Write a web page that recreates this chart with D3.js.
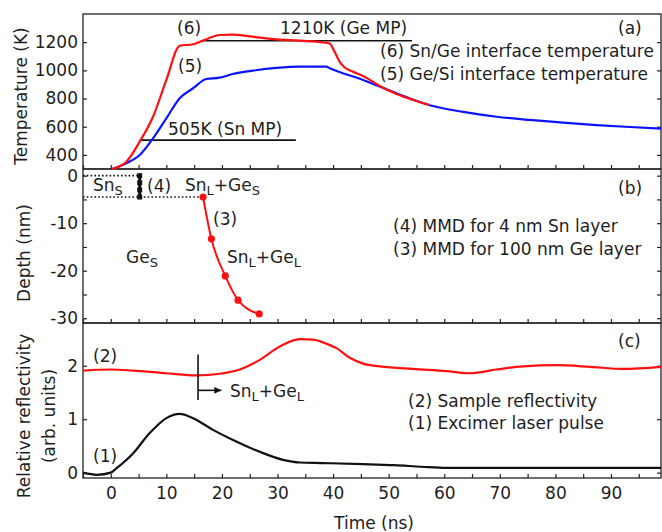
<!DOCTYPE html>
<head>
	<meta charset="utf-8" />
	<style>
		body {
			margin: 0;
			background: #fff;
		}
		text {
			font-family: 'DejaVu Sans', sans-serif;
			font-size: 17px;
			fill: #1e1e1e;
		}
		.axis path,
		.axis line {
			stroke: #222;
			stroke-width: 1.2;
		}
		.frame {
			fill: none;
			stroke: #222;
			stroke-width: 1.3;
		}
	</style>
</head>

<body>
	<svg id="chart" width="662" height="532"></svg>

	<script src="https://cdnjs.cloudflare.com/ajax/libs/d3/7.8.5/d3.min.js"></script>
	<script>
		// ---- data ----
		// (a) interface temperatures
		var snGeTime = [0.2, 2.8, 5.2, 7.6, 10, 12.4, 14.8, 16.6, 19.6, 21.9, 25.5, 29.8, 34, 38.8, 39.4, 40.3, 41.2, 42.1, 43.6, 45.4, 48.4, 51.4, 54.4, 57.4, 63.4, 69.4, 75.4, 81.4, 87.4, 93.4, 99];
		var snGeTemp = [300, 352, 494, 671, 932, 1175, 1185, 1211, 1251, 1253, 1239, 1220, 1211, 1196, 1190, 1130, 1060, 1020, 990, 960, 889, 832, 790, 754, 705, 671, 648, 629, 612, 598, 586];
		var geSiTime = [0.2, 2.8, 5.2, 7.6, 10, 12.4, 14.8, 17.2, 19.6, 21.9, 25.6, 29.8, 34, 38.8, 39.4, 45.4, 51.4, 57.4, 63.4, 69.4, 75.4, 81.4, 87.4, 93.4, 99];
		var geSiTemp = [300, 340, 399, 518, 660, 802, 873, 939, 948, 974, 998, 1017, 1026, 1026, 1015, 932, 837, 752, 705, 671, 648, 629, 612, 598, 586];
		var snMeltLine = { t: [5.2, 33.3], temp: 505 };
		var geMeltLine = { t: [16.6, 54.2], temp: 1210 };

		// (b) maximum melt depth
		var mmdGeTime = [16.6, 18.1, 20.6, 22.9, 26.7];
		var mmdGeDepth = [-4.5, -13.3, -21.1, -26.2, -29.1];
		var mmdSnTime = 5.2;
		var mmdSnDepth = [0, -1.5, -3, -4.5];

		// (c) reflectivity and laser pulse
		var reflTime = [-5, 0, 4, 10, 15.4, 19.6, 23.2, 26.8, 30.4, 34, 36.4, 39.1, 40.6, 43, 45.4, 48.4, 54.4, 60.4, 64.6, 69.4, 74.2, 80.2, 86.2, 92.1, 99];
		var reflValue = [1.91, 1.93, 1.91, 1.86, 1.82, 1.85, 1.93, 2.11, 2.36, 2.5, 2.49, 2.4, 2.33, 2.15, 2.04, 1.99, 1.94, 1.9, 1.86, 1.93, 1.99, 2.01, 1.98, 1.94, 1.98];
		var pulseTime = [-5, -2.5, 0, 1, 4, 7, 10, 12.4, 14.8, 18.4, 22, 26.8, 31, 34, 38, 45.4, 51, 56, 60.4, 69.4, 99];
		var pulseValue = [0, -0.04, 0, 0.08, 0.36, 0.74, 1.02, 1.1, 1.02, 0.8, 0.61, 0.39, 0.24, 0.19, 0.18, 0.16, 0.14, 0.11, 0.09, 0.09, 0.09];
		var meltOnset = { t: 15.7, r: [1.36, 2.21], arrowTo: 19.9, arrowR: 1.54 };

		// ticks
		var timeTicks = d3.range(-5, 100, 5);
		var timeLabels = d3.range(0, 100, 10);
		var tempTicks = [400, 600, 800, 1000, 1200];
		var depthTicks = [0, -5, -10, -15, -20, -25, -30];
		var depthLabels = [0, -10, -20, -30];
		var reflTicks = [0, 1, 2];

		var zip = (a, b) => a.map((v, i) => [v, b[i]]);

		// ---- layout ----
		var svg = d3.select('#chart');
		var left = 83, right = 661;
		var x = d3.scaleLinear().domain([-5, 99]).range([left, right]);
		var yA = d3.scaleLinear().domain([300, 1400]).range([169, 14]);
		var yB = d3.scaleLinear().domain([-31, 1.4]).range([323, 169]);
		var yC = d3.scaleLinear().domain([-0.1, 2.8]).range([478, 323]);

		svg.append('defs').append('marker')
			.attr('id', 'arrow')
			.attr('viewBox', '0 0 10 10')
			.attr('refX', 10).attr('refY', 5)
			.attr('markerWidth', 7).attr('markerHeight', 7)
			.attr('markerUnits', 'userSpaceOnUse')
			.attr('orient', 'auto')
			.append('path').attr('d', 'M0,0 L10,5 L0,10 z').attr('fill', '#111');

		function panelAxes(y, ticks, labels, showTime) {
			var bottom = y.range()[0], top = y.range()[1];
			svg.append('rect').attr('class', 'frame')
				.attr('x', left).attr('y', top)
				.attr('width', right - left).attr('height', bottom - top);

			var xb = svg.append('g').attr('class', 'axis')
				.attr('transform', `translate(0,${bottom})`)
				.call(d3.axisBottom(x).tickValues(timeTicks).tickSize(-4).tickPadding(8.5)
					.tickFormat(d => (showTime && timeLabels.includes(d) ? d : '')));
			xb.select('.domain').remove();

			var yl = svg.append('g').attr('class', 'axis')
				.attr('transform', `translate(${left},0)`)
				.call(d3.axisLeft(y).tickValues(ticks).tickSize(-4).tickPadding(5)
					.tickFormat(d => (labels.includes(d) ? String(d) : '')));
			yl.select('.domain').remove();

			var yr = svg.append('g').attr('class', 'axis')
				.attr('transform', `translate(${right},0)`)
				.call(d3.axisRight(y).tickValues(ticks).tickSize(-4).tickFormat(''));
			yr.select('.domain').remove();
		}

		panelAxes(yA, tempTicks, tempTicks, false);
		panelAxes(yB, depthTicks, depthLabels, false);
		panelAxes(yC, reflTicks, reflTicks, true);

		function curve(y, data, color, width) {
			var line = d3.line().x(d => x(d[0])).y(d => y(d[1])).curve(d3.curveMonotoneX);
			return svg.append('path').datum(data)
				.attr('d', line).attr('fill', 'none')
				.attr('stroke', color).attr('stroke-width', width)
				.attr('stroke-linejoin', 'round');
		}

		function hline(y, t0, t1, v, opts) {
			var l = svg.append('line')
				.attr('x1', x(t0)).attr('x2', x(t1))
				.attr('y1', y(v)).attr('y2', y(v))
				.attr('stroke', '#111').attr('stroke-width', (opts && opts.w) || 1.6);
			if (opts && opts.dash) l.attr('stroke-dasharray', opts.dash);
			return l;
		}

		// text with subscripts: parts = [[text, isSub], ...]
		function label(px, py, parts) {
			var t = svg.append('text').attr('x', px).attr('y', py);
			if (typeof parts === 'string') { t.text(parts); return t; }
			var down = false;
			parts.forEach(p => {
				var s = t.append('tspan').text(p[0]);
				if (p[1] && !down) { s.attr('dy', 4).style('font-size', '13px'); down = true; }
				else if (p[1]) s.style('font-size', '13px');
				else if (down) { s.attr('dy', -4); down = false; }
			});
			return t;
		}

		// ---- panel (a) ----
		hline(yA, snMeltLine.t[0], snMeltLine.t[1], snMeltLine.temp);
		hline(yA, geMeltLine.t[0], geMeltLine.t[1], geMeltLine.temp);
		curve(yA, zip(geSiTime, geSiTemp), '#0a14ff', 2.2);
		curve(yA, zip(snGeTime, snGeTemp).filter(d => d[0] <= 57.4), '#ff1010', 2.2);

		label(177, 34, '(6)');
		label(178, 72, '(5)');
		label(280, 34, '1210K (Ge MP)');
		label(168, 135, '505K (Sn MP)');
		label(618, 34, '(a)');
		label(380, 57, '(6) Sn/Ge interface temperature');
		label(380, 80, '(5) Ge/Si interface temperature');

		// ---- panel (b) ----
		hline(yB, -5, mmdSnTime, 0, { dash: '1.6,2.2', w: 1.6 });
		hline(yB, -5, mmdGeTime[0], mmdGeDepth[0], { dash: '1.6,2.2', w: 1.6 });
		svg.append('line')
			.attr('x1', x(mmdSnTime)).attr('x2', x(mmdSnTime))
			.attr('y1', yB(mmdSnDepth[0])).attr('y2', yB(mmdSnDepth[mmdSnDepth.length - 1]))
			.attr('stroke', '#111').attr('stroke-width', 3);
		svg.selectAll('.snpt').data(mmdSnDepth).join('rect')
			.attr('x', x(mmdSnTime) - 2.5).attr('y', d => yB(d) - 2.5)
			.attr('width', 5).attr('height', 5).attr('fill', '#111');

		curve(yB, zip(mmdGeTime, mmdGeDepth), '#ff1010', 2);
		svg.selectAll('.gept').data(zip(mmdGeTime, mmdGeDepth)).join('circle')
			.attr('cx', d => x(d[0])).attr('cy', d => yB(d[1]))
			.attr('r', 3.6).attr('fill', '#ff1010');

		label(93, 191, [['Sn'], ['S', 1]]);
		label(147, 191.5, '(4)');
		label(185, 191, [['Sn'], ['L', 1], ['+Ge'], ['S', 1]]);
		label(213, 225, '(3)');
		label(126, 263, [['Ge'], ['S', 1]]);
		label(227, 263, [['Sn'], ['L', 1], ['+Ge'], ['L', 1]]);
		label(618, 194, '(b)');
		label(393, 231.7, '(4) MMD for 4 nm Sn layer');
		label(393, 255, '(3) MMD for 100 nm Ge layer');

		// ---- panel (c) ----
		curve(yC, zip(reflTime, reflValue), '#ff1010', 2.2);
		curve(yC, zip(pulseTime, pulseValue), '#111', 2.2);
		svg.append('line')
			.attr('x1', x(meltOnset.t)).attr('x2', x(meltOnset.t))
			.attr('y1', yC(meltOnset.r[0])).attr('y2', yC(meltOnset.r[1]))
			.attr('stroke', '#111').attr('stroke-width', 1.6);
		svg.append('line')
			.attr('x1', x(meltOnset.t)).attr('x2', x(meltOnset.arrowTo))
			.attr('y1', yC(meltOnset.arrowR)).attr('y2', yC(meltOnset.arrowR))
			.attr('stroke', '#111').attr('stroke-width', 1.6)
			.attr('marker-end', 'url(#arrow)');

		label(93, 361.7, '(2)');
		label(93, 461.7, '(1)');
		label(230, 396.7, [['Sn'], ['L', 1], ['+Ge'], ['L', 1]]);
		label(618, 347, '(c)');
		label(408, 407, '(2) Sample reflectivity');
		label(408, 428.5, '(1) Excimer laser pulse');

		// ---- axis titles ----
		function vlabel(px, py, txt) {
			svg.append('text')
				.attr('transform', `translate(${px},${py}) rotate(-90)`)
				.attr('text-anchor', 'middle').text(txt);
		}
		vlabel(27, 96, 'Temperature (K)');
		vlabel(30, 253, 'Depth (nm)');
		vlabel(30, 416, 'Relative reflectivity');
		vlabel(54.5, 416, '(arb. units)');

		svg.append('text').attr('x', (left + right) / 2 + 2).attr('y', 529)
			.attr('text-anchor', 'middle').text('Time (ns)');
	</script>
</body>
